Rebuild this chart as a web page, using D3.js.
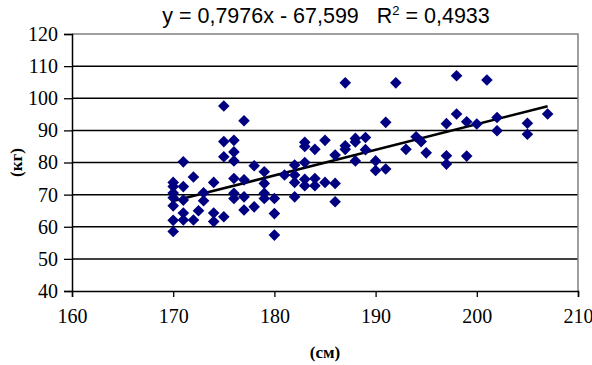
<!DOCTYPE html>
<html>
<head>
<meta charset="utf-8">
<script src="https://cdn.jsdelivr.net/npm/d3@7"></script>
<style>
  body { margin: 0; background: #fff; }
</style>
</head>
<body>
<div id="plot"></div>
<script>
// height (cm) and weight (kg)
var heights = [170, 170, 170, 170, 170, 170, 170,
  171, 171, 171, 171, 171,
  172, 172, 172.5,
  173, 173,
  174, 174, 174,
  175, 175, 175, 175,
  176, 176, 176, 176, 176, 176,
  177, 177, 177, 177,
  178, 178,
  179, 179, 179, 179,
  180, 180, 180,
  181,
  182, 182, 182, 182,
  183, 183, 183, 183, 183,
  184, 184, 184,
  185, 185,
  186, 186, 186,
  187, 187, 187,
  188, 188, 188,
  189, 189,
  190, 190,
  191, 191,
  192, 193, 194, 194.5, 195,
  197, 197, 197,
  198, 198,
  199, 199,
  200, 201,
  202, 202,
  205, 205,
  207];
var weights = [73.8, 72.5, 70.5, 69, 66.5, 62, 58.5,
  80.2, 72.5, 68.3, 64.3, 62.1,
  75.5, 62.1, 65,
  70.6, 68.1,
  73.8, 64.3, 61.6,
  97.6, 86.5, 81.8, 63.1,
  86.9, 83.3, 80.5, 75, 70.4, 68.8,
  93, 74.6, 69.3, 65.2,
  79, 66.2,
  77.1, 73.5, 70.4, 68.8,
  68.8, 64.1, 57.4,
  76.1,
  79.2, 76.1, 73.8, 69.3,
  86.3, 85, 80, 74.8, 72.8,
  84.1, 75, 72.8,
  86.9, 73.8,
  82.3, 73.5, 67.8,
  104.8, 85.2, 84.1,
  87.5, 86.4, 80.5,
  87.8, 84,
  80.5, 77.5,
  92.5, 78,
  104.8, 84.1, 88, 86.5, 83,
  92.1, 82.1, 79.5,
  107, 95.1,
  92.7, 82,
  92, 105.7,
  94, 89.9,
  92.2, 88.8,
  95.1];

var xTicks = [160, 170, 180, 190, 200, 210];
var yTicks = [40, 50, 60, 70, 80, 90, 100, 110, 120];
var slope = 0.7976, intercept = -67.599;
var titleText = "y = 0,7976x - 67,599   R";
var r2Text = " = 0,4933";

var width = 592, height = 365;
const margin = {top: 34, right: 14, bottom: 74, left: 72};
var chartWidth = width - margin.left - margin.right;
var chartHeight = height - margin.top - margin.bottom;
var serif = "'Liberation Serif', 'Times New Roman', serif";

var svg = d3.select("#plot")
  .append("svg")
  .attr("width", width)
  .attr("height", height);

var g = svg.append("g")
  .attr("transform", "translate(" + margin.left + "," + margin.top + ")");

var x = d3.scaleLinear().domain([160, 210]).range([0, chartWidth]);
var y = d3.scaleLinear().domain([40, 120]).range([chartHeight, 0]);

// gridlines
g.selectAll(".grid")
  .data(yTicks.filter(function(d) { return d > 40 && d < 120; }))
  .enter()
  .append("line")
  .attr("x1", 0)
  .attr("x2", chartWidth)
  .attr("y1", function(d) { return y(d); })
  .attr("y2", function(d) { return y(d); })
  .attr("stroke", "#000")
  .attr("stroke-width", 1.5);

// top and right border of plot area
g.append("path")
  .attr("d", "M0," + y(120) + "H" + x(210) + "V" + y(40))
  .attr("fill", "none")
  .attr("stroke", "#808080")
  .attr("stroke-width", 1.5);

// axes
var xAxis = g.append("g")
  .attr("transform", "translate(0," + chartHeight + ")")
  .call(d3.axisBottom(x).tickValues(xTicks).tickSize(6).tickPadding(12));

var yAxis = g.append("g")
  .call(d3.axisLeft(y).tickValues(yTicks).tickSize(8).tickPadding(6));

[xAxis, yAxis].forEach(function(a) {
  a.attr("font-family", serif).attr("font-size", 20);
  a.select(".domain").attr("stroke", "#000").attr("stroke-width", 1.5);
  a.selectAll(".tick line").attr("stroke", "#000").attr("stroke-width", 1.3);
  a.selectAll("text").attr("fill", "#000");
});

// trend line over the data range
var xmin = d3.min(heights), xmax = d3.max(heights);
g.append("line")
  .attr("x1", x(xmin))
  .attr("y1", y(slope * xmin + intercept))
  .attr("x2", x(xmax))
  .attr("y2", y(slope * xmax + intercept))
  .attr("stroke", "#000")
  .attr("stroke-width", 2.5);

// diamond markers
var r = 5.8;
g.selectAll(".pt")
  .data(heights.map(function(h, i) { return [h, weights[i]]; }))
  .enter()
  .append("path")
  .attr("class", "pt")
  .attr("transform", function(d) { return "translate(" + x(d[0]) + "," + y(d[1]) + ")"; })
  .attr("d", "M0," + (-r) + "L" + r + ",0L0," + r + "L" + (-r) + ",0Z")
  .attr("fill", "#000080");

// title with equation
var title = svg.append("text")
  .attr("x", 326)
  .attr("y", 23)
  .attr("text-anchor", "middle")
  .style("white-space", "pre")
  .attr("font-family", "'Liberation Sans', Arial, sans-serif")
  .attr("font-size", 21.5)
  .attr("fill", "#000");
title.append("tspan").text(titleText);
title.append("tspan").attr("dy", -8).attr("font-size", 13).text("2");
title.append("tspan").attr("dy", 8).text(r2Text);

// axis titles
svg.append("text")
  .attr("x", margin.left + x(185))
  .attr("y", 358)
  .attr("text-anchor", "middle")
  .attr("font-family", serif)
  .attr("font-weight", "bold")
  .attr("font-size", 17)
  .text("(см)");

svg.append("text")
  .attr("transform", "translate(22," + (margin.top + y(80)) + ") rotate(-90)")
  .attr("text-anchor", "middle")
  .attr("font-family", serif)
  .attr("font-weight", "bold")
  .attr("font-size", 17)
  .text("(кг)");
</script>
</body>
</html>
